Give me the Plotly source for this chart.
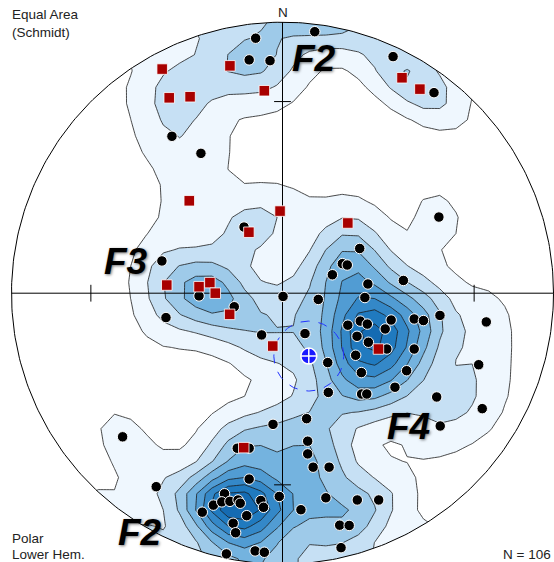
import numpy as np
import plotly.graph_objects as go

# ---- data (equal-area projected coordinates, unit net radius) ----
dots_x = [-0.099, -0.123, -0.046, -0.408, -0.301, -0.142, -0.445, 0.119, 0.408, 0.559,
          0.577, 0.285, 0.221, 0.239, 0.184, 0.446, 0.315, 0.132, 0.304, 0.287,
          0.313, 0.401, 0.486, 0.520, 0.581, 0.241, 0.379, 0.275, 0.317, 0.385,
          0.486, 0.270, 0.167, 0.458, 0.291, 0.415, 0.169, 0.292, 0.311, 0.569,
          0.752, 0.724, 0.737, 0.582, 0.083, 0.002, 0.089, 0.093, 0.093, 0.113,
          0.172, -0.012, 0.160, 0.276, 0.355, 0.068, 0.211, 0.246, 0.216, -0.167,
          -0.123, -0.466, -0.123, -0.214, -0.255, -0.224, -0.194, -0.164, -0.156, -0.080,
          -0.070, -0.296, -0.132, -0.182, -0.173, -0.207, -0.101, -0.067, -0.430, -0.178,
          -0.308, -0.077, -0.035, -0.590]
dots_y = [0.941, 0.861, 0.858, 0.579, 0.516, 0.244, 0.119, 0.965, 0.873, 0.740,
          0.281, 0.165, 0.109, 0.104, 0.068, 0.047, 0.034, -0.023, -0.016, -0.103,
          -0.114, -0.099, -0.095, -0.101, -0.082, -0.118, -0.132, -0.159, -0.181, -0.206,
          -0.206, -0.229, -0.256, -0.286, -0.293, -0.347, -0.366, -0.372, -0.372, -0.383,
          -0.106, -0.264, -0.426, -0.490, -0.149, -0.012, -0.463, -0.546, -0.593, -0.642,
          -0.642, -0.750, -0.755, -0.763, -0.763, -0.799, -0.856, -0.857, -0.939, -0.572,
          -0.572, -0.714, -0.686, -0.740, -0.782, -0.770, -0.768, -0.763, -0.775, -0.765,
          -0.790, -0.808, -0.821, -0.849, -0.884, -0.962, -0.951, -0.956, -0.090, -0.050,
          -0.010, -0.154, -0.484, -0.530]
squares_x = [-0.194, -0.444, -0.418, -0.341, -0.067, 0.441, 0.507, -0.344, -0.009, -0.124,
             0.241, -0.427, -0.308, -0.268, -0.248, -0.195, -0.036, 0.354, -0.143]
squares_y = [0.839, 0.827, 0.721, 0.725, 0.747, 0.795, 0.753, 0.341, 0.303, 0.225,
             0.259, 0.030, 0.024, 0.039, 0.000, -0.078, -0.195, -0.206, -0.570]
mean_pole = [0.097, -0.232]
cone_radius = 0.129
n_label = "N = 106"

# ---- geometry helpers ----
PX_CX, PX_CY, PX_R = 282.5, 293.2, 271.0
W, H = 554, 562
def px2x(px): return (px - PX_CX) / PX_R
def py2y(py): return (PX_CY - py) / PX_R

def to_vec(x, y):
    x = np.asarray(x, float); y = np.asarray(y, float)
    r = np.clip(np.hypot(x, y), 0, 1)
    th = 2 * np.arcsin(r / np.sqrt(2))
    tr = np.arctan2(x, y)
    return np.stack([np.sin(th) * np.sin(tr), np.sin(th) * np.cos(tr), -np.cos(th)], -1)

all_x = dots_x + squares_x
all_y = dots_y + squares_y
P = to_vec(all_x, all_y)

step = 0.06
gx = np.arange(-1.1, 1.1001, step)
gy = np.arange(-1.1, 1.1001, step)
GX, GY = np.meshgrid(gx, gy)
G = to_vec(GX, GY)
k = 60.0
dots = np.abs(np.einsum('ijk,nk->ijn', G, P))
Z = np.exp(k * (dots - 1)).sum(-1)

nlev = 9
start, size = 0.7, 1.15
colors = ['#ffffff', '#eff7fe', '#c6e0f4', '#9ecae9', '#74b3df', '#519cd3',
          '#3488c8', '#207abf', '#156bb2', '#0e5ea5']
cs = [[i / nlev, colors[i]] for i in range(nlev + 1)]

fig = go.Figure()
fig.add_trace(go.Contour(x=gx, y=gy, z=Z, colorscale=cs, showscale=False,
                         contours=dict(start=start, end=start + size * (nlev - 1), size=size,
                                       coloring='fill'),
                         line=dict(color='#1a1a1a', width=0.8, smoothing=0),
                         hoverinfo='skip'))

# white mask outside the net
t = np.linspace(np.pi * 1.25, np.pi * 1.25 + 2 * np.pi, 361)
mx = [-1.3, -1.3, 1.3, 1.3, -1.3] + list(np.cos(t)) + [-1.3]
my = [-1.3, 1.3, 1.3, -1.3, -1.3] + list(np.sin(t)) + [-1.3]
fig.add_trace(go.Scatter(x=mx, y=my, mode='lines', fill='toself', fillcolor='white',
                         line=dict(width=0, color='white'), hoverinfo='skip'))

tc = np.linspace(0, 2 * np.pi, 400)
fig.add_trace(go.Scatter(x=np.cos(tc), y=np.sin(tc), mode='lines',
                         line=dict(color='black', width=1), hoverinfo='skip'))
fig.add_trace(go.Scatter(x=[-1, 1, None, 0, 0], y=[0, 0, None, -1, 1], mode='lines',
                         line=dict(color='black', width=1), hoverinfo='skip'))
tick_r = np.sqrt(2) * np.sin(np.radians(30))
tl = 0.031
fig.add_trace(go.Scatter(
    x=[-tick_r, -tick_r, None, tick_r, tick_r, None, -tl, tl, None, -tl, tl],
    y=[-tl, tl, None, -tl, tl, None, tick_r, tick_r, None, -tick_r, -tick_r],
    mode='lines', line=dict(color='black', width=1), hoverinfo='skip'))

fig.add_trace(go.Scatter(x=mean_pole[0] + cone_radius * np.cos(tc),
                         y=mean_pole[1] + cone_radius * np.sin(tc), mode='lines',
                         line=dict(color='#2233ff', width=1, dash='dash'), hoverinfo='skip'))

fig.add_trace(go.Scatter(x=dots_x, y=dots_y, mode='markers',
                         marker=dict(size=10.5, color='black', line=dict(color='white', width=1))))
fig.add_trace(go.Scatter(x=squares_x, y=squares_y, mode='markers',
                         marker=dict(symbol='square', size=10.5, color='#a80000',
                                     line=dict(color='white', width=0.8))))
fig.add_trace(go.Scatter(x=[mean_pole[0]], y=[mean_pole[1]], mode='markers',
                         marker=dict(symbol='circle-cross', size=16, color='#1a1aff',
                                     line=dict(color='white', width=1.5))))

font = 'Liberation Sans, Arial, sans-serif'
ann = []
def add_text(txt, px, py, size=13.5, xanchor='left', **fkw):
    ann.append(dict(text=txt, x=px / W, y=1 - py / H, xref='paper', yref='paper',
                    xanchor=xanchor, yanchor='middle', showarrow=False,
                    font=dict(family=font, size=size, color='#222', **fkw)))
add_text('Equal Area', 10, 15)
add_text('(Schmidt)', 10, 33)
add_text('N', 282.5, 12, xanchor='center')
add_text('Polar', 10, 538)
add_text('Lower Hem.', 10, 554)
add_text(n_label, 553, 554, xanchor='right')
big = dict(weight='bold', style='italic', shadow='1px 1px 3px rgba(0,0,0,0.55)')
for txt, px, py in [('F2', 314, 58), ('F3', 126, 262), ('F4', 408, 426), ('F2', 140, 532)]:
    ann.append(dict(text=txt, x=px / W, y=1 - py / H, xref='paper', yref='paper',
                    xanchor='center', yanchor='middle', showarrow=False,
                    font=dict(family=font, size=37, color='black', **big)))

fig.update_layout(width=W, height=H, margin=dict(l=0, r=0, t=0, b=0),
                  paper_bgcolor='white', plot_bgcolor='white', showlegend=False,
                  annotations=ann,
                  xaxis=dict(range=[px2x(0), px2x(W)], visible=False),
                  yaxis=dict(range=[py2y(H), py2y(0)], visible=False))
fig.write_html('out.html', config={'displayModeBar': False},
               post_script="document.body.style.margin='0px';document.body.style.overflow='hidden';")
